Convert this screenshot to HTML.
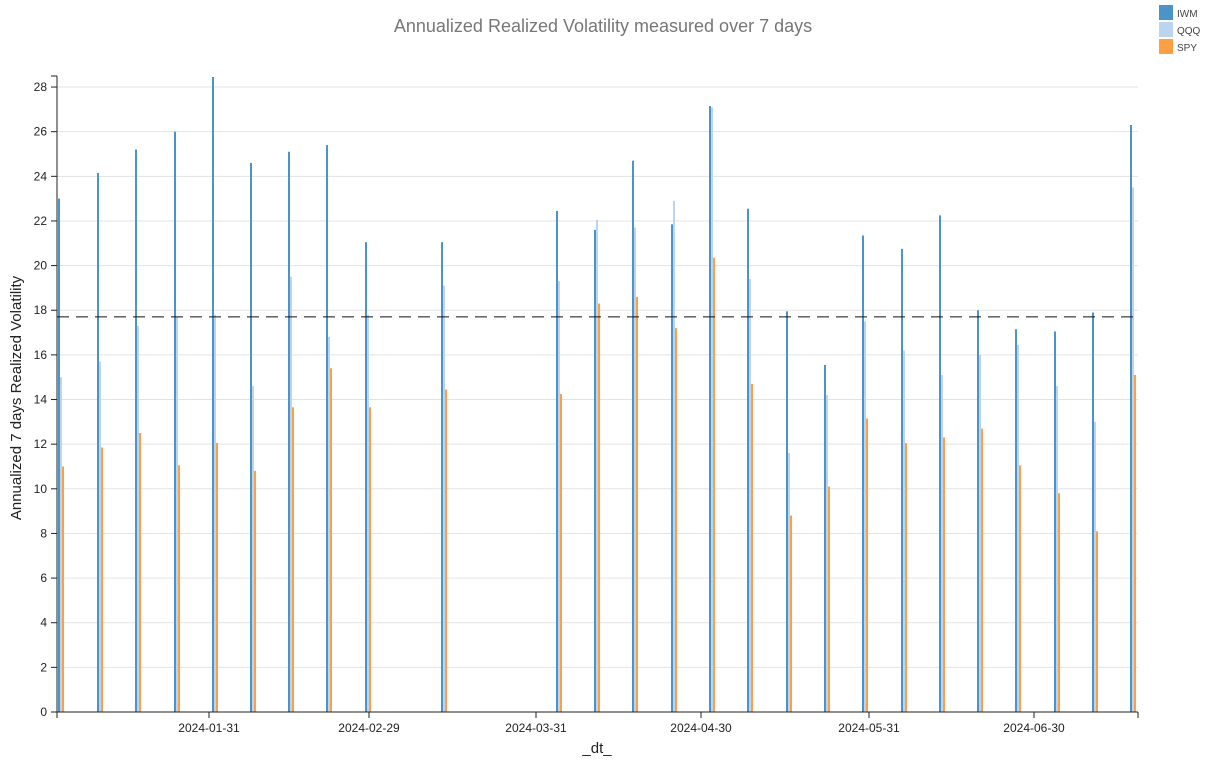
<!DOCTYPE html><html><head><style>body{margin:0;background:#fff;font-family:"Liberation Sans",sans-serif}</style></head><body>
<svg id="s" width="1206" height="764" xmlns="http://www.w3.org/2000/svg" font-family="Liberation Sans, sans-serif"></svg>
<script>
const s=document.getElementById('s');let h='';
const y=v=>712-v*22.32;
h+='<text x="603" y="32" text-anchor="middle" font-size="18" fill="#777">Annualized Realized Volatility measured over 7 days</text>';
for(let v=0;v<=28;v+=2){h+=`<line x1="57" x2="1138" y1="${y(v)}" y2="${y(v)}" stroke="#e3e3e3"/>`;h+=`<text x="47" y="${y(v)+4}" text-anchor="end" font-size="12" fill="#222">${v}</text><line x1="51" x2="57" y1="${y(v)}" y2="${y(v)}" stroke="#222"/>`;}
const d=[[59,23,15,11],[98,24.15,15.7,11.85],[136,25.2,17.3,12.5],[175,26,17.7,11.05],[213,28.45,17.8,12.05],[251,24.6,14.6,10.8],[289,25.1,19.5,13.65],[327,25.4,16.8,15.4],[366,21.05,17.8,13.65],[442,21.05,19.1,14.45],[557,22.45,19.3,14.25],[595,21.6,22.05,18.3],[633,24.7,21.7,18.6],[672,21.85,22.9,17.2],[710,27.15,27.1,20.35],[748,22.55,19.4,14.7],[787,17.95,11.6,8.8],[825,15.55,14.2,10.1],[863,21.35,17.5,13.15],[902,20.75,16.2,12.05],[940,22.25,15.1,12.3],[978,18,16,12.7],[1016,17.15,16.45,11.05],[1055,17.05,14.6,9.8],[1093,17.9,13,8.1],[1131,26.3,23.5,15.1]];
for(const [x,a,b,c] of d){h+=`<rect x="${x-1}" y="${y(a)}" width="2" height="${712-y(a)}" fill="#4c93c9"/>`;h+=`<rect x="${x+1}" y="${y(b)}" width="2" height="${712-y(b)}" fill="#bcd4ee"/>`;h+=`<rect x="${x+3}" y="${y(c)}" width="2" height="${712-y(c)}" fill="#ff9f45"/>`;}
h+=`<line x1="57" x2="1138" y1="${y(17.7)}" y2="${y(17.7)}" stroke="#111" stroke-dasharray="12,7"/>`;
h+='<line x1="57" x2="57" y1="76" y2="718" stroke="#222"/><line x1="51" x2="57" y1="76" y2="76" stroke="#222"/>';
h+='<line x1="57" x2="1138" y1="712" y2="712" stroke="#222"/><line x1="57" x2="57" y1="712" y2="718" stroke="#222"/><line x1="1138" x2="1138" y1="712" y2="718" stroke="#222"/>';
[[209,'2024-01-31'],[369,'2024-02-29'],[536,'2024-03-31'],[701,'2024-04-30'],[869,'2024-05-31'],[1034,'2024-06-30']].forEach(([x,t])=>{h+=`<line x1="${x}" x2="${x}" y1="712" y2="718" stroke="#222"/><text x="${x}" y="732" text-anchor="middle" font-size="12" fill="#222">${t}</text>`;});
h+='<text x="597" y="753" text-anchor="middle" font-size="15" fill="#222">_dt_</text>';
h+='<text transform="translate(21,398) rotate(-90)" text-anchor="middle" font-size="15" fill="#222">Annualized 7 days Realized Volatility</text>';
[['#4c93c9','IWM',5],['#bcd4ee','QQQ',22],['#ff9f45','SPY',39]].forEach(([c,t,yy])=>{h+=`<rect x="1159" y="${yy}" width="14" height="15" fill="${c}"/><text x="1177" y="${yy+12}" font-size="10" fill="#444">${t}</text>`;});
s.innerHTML=h;
</script></body></html>
